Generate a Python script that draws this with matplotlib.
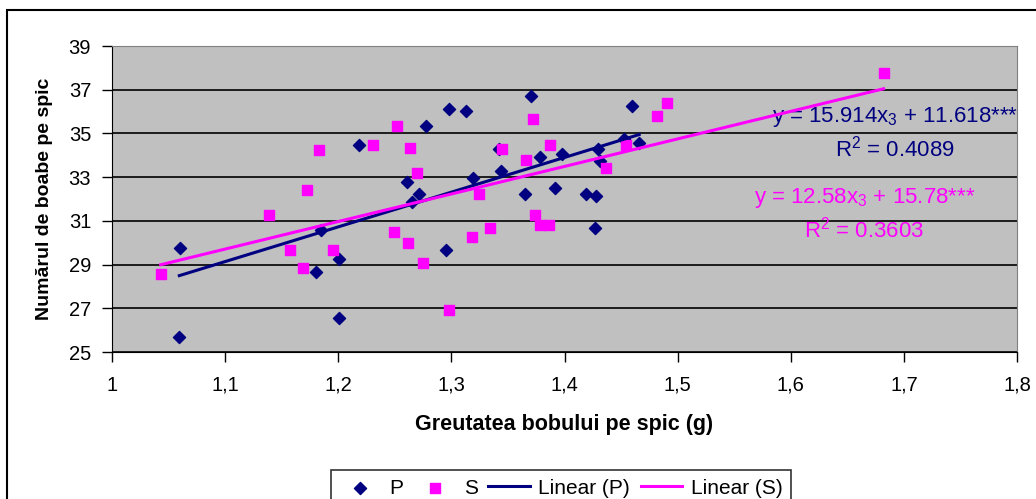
import numpy as np
import matplotlib.pyplot as plt
from matplotlib.patches import Rectangle
from matplotlib.ticker import FuncFormatter

plt.rcParams['font.family'] = ['Liberation Sans', 'DejaVu Sans']
plt.rcParams['mathtext.fontset'] = 'custom'
plt.rcParams['mathtext.rm'] = 'Liberation Sans'
plt.rcParams['mathtext.it'] = 'Liberation Sans'

# P series (diamonds)
xP = [1.060, 1.0595, 1.185, 1.180, 1.201, 1.201, 1.218, 1.261, 1.271, 1.265,
      1.278, 1.298, 1.313, 1.295, 1.319, 1.342, 1.344, 1.370, 1.365, 1.378,
      1.398, 1.392, 1.419, 1.428, 1.427, 1.430, 1.431, 1.453, 1.460, 1.466]
yP = [29.74, 25.70, 30.58, 28.67, 29.27, 26.54, 34.48, 32.79, 32.21, 31.88,
      35.32, 36.10, 36.02, 29.67, 32.97, 34.27, 33.28, 36.71, 32.21, 33.93,
      34.04, 32.49, 32.21, 32.14, 30.66, 34.27, 33.73, 34.73, 36.25, 34.58]

# S series (squares)
xS = [1.043, 1.139, 1.157, 1.169, 1.172, 1.183, 1.195, 1.231, 1.249, 1.252,
      1.262, 1.263, 1.270, 1.275, 1.298, 1.324, 1.318, 1.334, 1.345, 1.366,
      1.372, 1.374, 1.378, 1.386, 1.387, 1.437, 1.454, 1.482, 1.491, 1.682]
yS = [28.58, 31.27, 29.67, 28.83, 32.41, 34.25, 29.67, 34.48, 30.50, 35.32,
      29.97, 34.33, 33.17, 29.06, 26.92, 32.21, 30.27, 30.66, 34.27, 33.80,
      35.64, 31.27, 30.81, 30.81, 34.48, 33.42, 34.48, 35.78, 36.40, 37.78]

navy = '#000080'
pink = '#FF00FF'

fig = plt.figure(figsize=(10.36, 4.99), dpi=100)
ax = fig.add_axes([112/1036, 1-352/499, (1017-112)/1036, (352-46)/499])
ax.set_facecolor('#C0C0C0')

# outer chart border
fig.patches.append(Rectangle((7/1036, -0.05), 1.1, 1-10/499+0.05,
                             transform=fig.transFigure, fill=False,
                             edgecolor='black', linewidth=1.5))

ax.scatter(xP, yP, marker='D', s=38, color=navy, label='P', zorder=3)
ax.scatter(xS, yS, marker='s', s=48, color=pink, label='S', zorder=3)

for xs, ys, c, lab in [(xP, yP, navy, 'Linear (P)'), (xS, yS, pink, 'Linear (S)')]:
    k, b = np.polyfit(xs, ys, 1)
    xx = np.array([min(xs), max(xs)])
    ax.plot(xx, k*xx + b, color=c, linewidth=2.2, label=lab, zorder=4)

ax.set_xlim(1, 1.8)
ax.set_ylim(25, 39)
ax.set_xticks(np.arange(1, 1.81, 0.1))
ax.set_yticks(range(25, 40, 2))
ax.xaxis.set_major_formatter(FuncFormatter(lambda v, p: ('%g' % round(v, 1)).replace('.', ',')))
ax.yaxis.grid(True, color='black', linewidth=1.2)
ax.set_axisbelow(True)
ax.tick_params(direction='out', length=7, width=1, labelsize=14.5, colors='black')
ax.tick_params(axis='x', pad=10)
ax.tick_params(axis='y', pad=8)
for s in ['top', 'right']:
    ax.spines[s].set_color('#808080')
for s in ['left', 'bottom']:
    ax.spines[s].set_color('black')

ax.set_xlabel('Greutatea bobului pe spic (g)', fontsize=15.5, fontweight='bold', labelpad=14)
ax.set_ylabel('Numărul de boabe pe spic', fontsize=14, fontweight='bold', labelpad=11)

ax.text(1.692, 35.75, 'y = 15.914x$_3$ + 11.618***', color=navy, fontsize=16, ha='center', va='center')
ax.text(1.692, 34.33, 'R$^2$ = 0.4089', color=navy, fontsize=16, ha='center', va='center')
ax.text(1.665, 32.04, 'y = 12.58x$_3$ + 15.78***', color=pink, fontsize=16, ha='center', va='center')
ax.text(1.665, 30.58, 'R$^2$ = 0.3603', color=pink, fontsize=16, ha='center', va='center')

leg = fig.legend(loc='upper center', bbox_to_anchor=(561/1036, 1-460/499), ncol=4,
                 fontsize=15, frameon=True, fancybox=False, edgecolor='black',
                 handlelength=2, columnspacing=0.5, handletextpad=0.4,
                 borderpad=0.4, scatterpoints=1)
leg.get_frame().set_linewidth(1.2)

fig.savefig('out.png', dpi=100)
